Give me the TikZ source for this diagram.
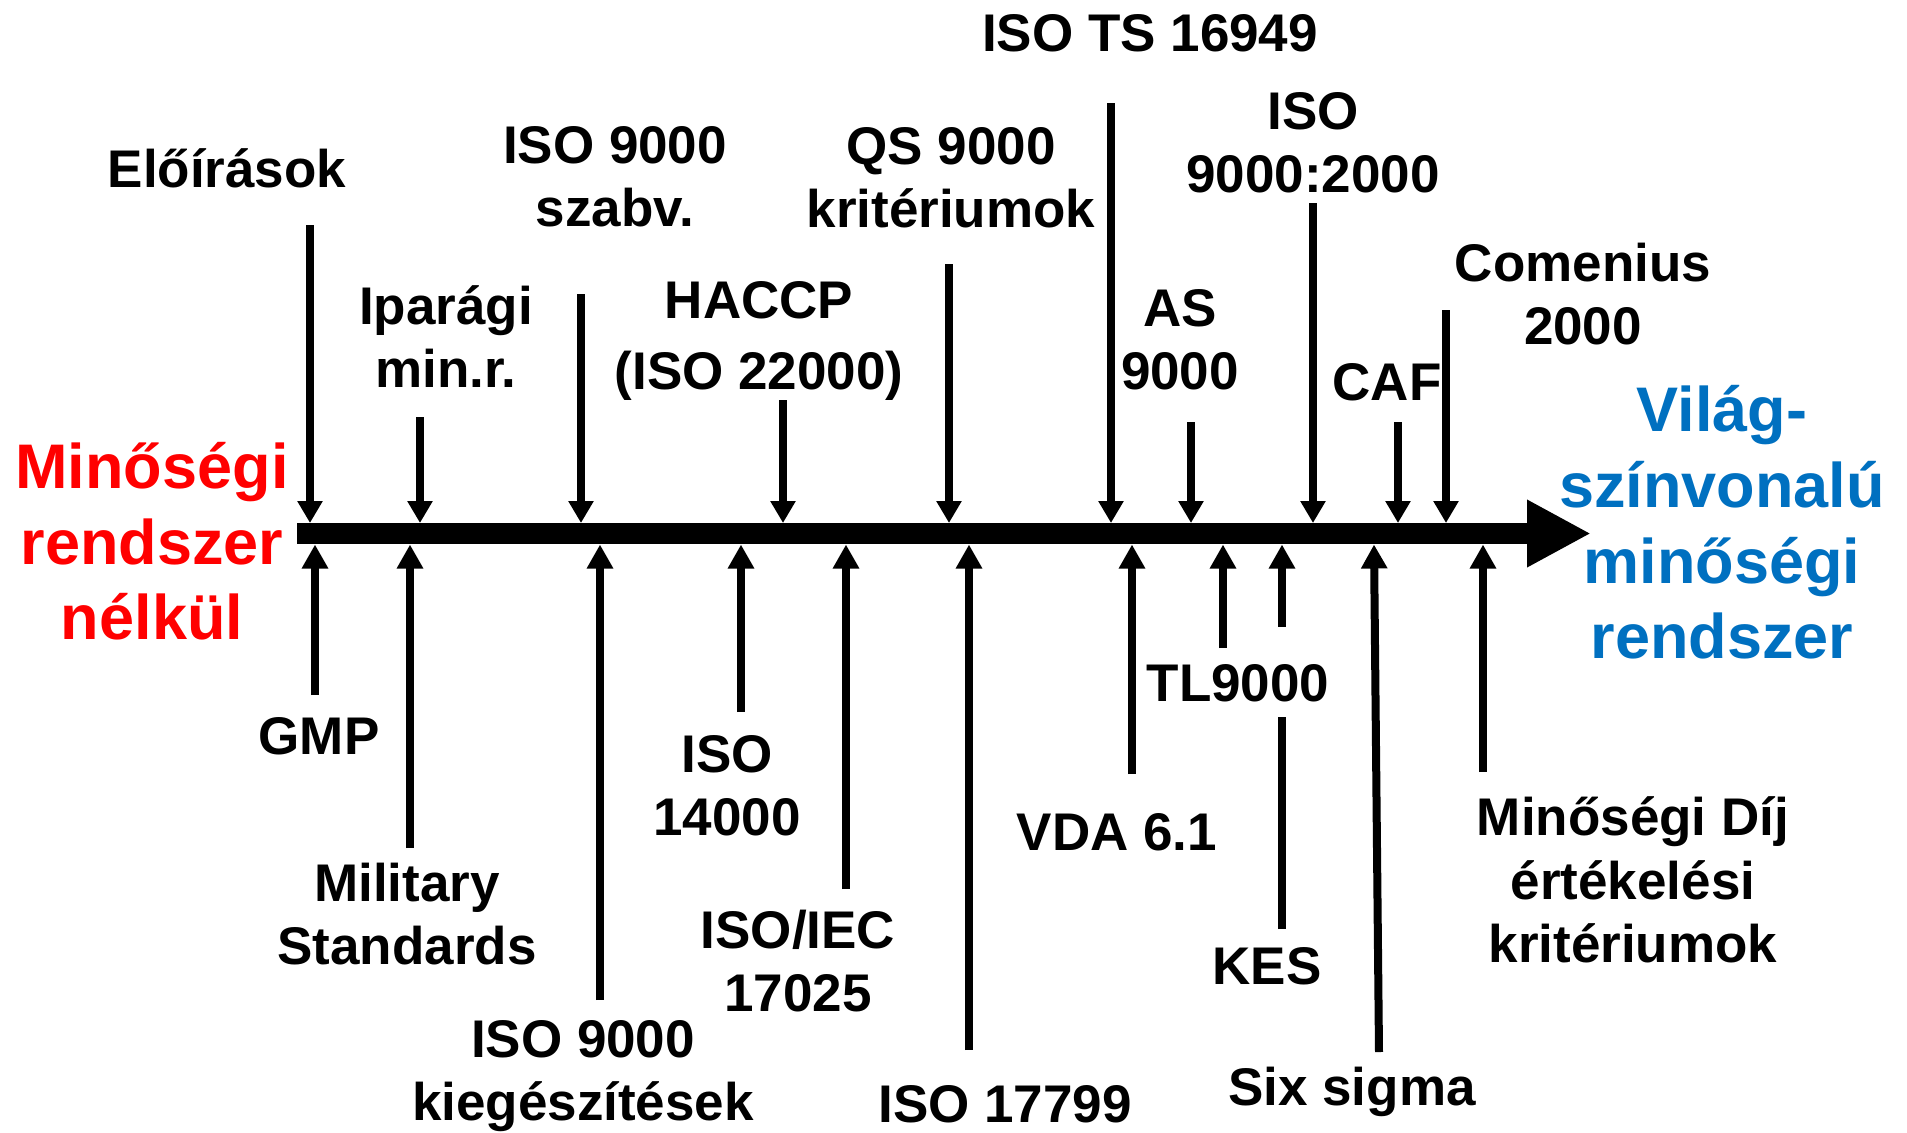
\documentclass[tikz,border=0pt]{standalone}
\usepackage{fontspec}
\setmainfont{Liberation Sans}
\usetikzlibrary{arrows.meta}
\definecolor{worldblue}{RGB}{0,112,192}

\begin{document}
\begin{tikzpicture}[x=0.5pt,y=-0.5pt,
    lbl/.style={font=\fontsize{26.5}{31.8}\selectfont\bfseries, align=center, inner sep=0pt, text depth=0pt, anchor=south},
    big/.style={font=\fontsize{31.5}{37.8}\selectfont\bfseries, align=center, inner sep=0pt, text depth=0pt, anchor=south},
    dn/.style={line width=4pt, -{Triangle[width=12pt,length=11pt]}},
    up/.style={line width=4pt, -{Triangle[width=12.5pt,length=12pt]}}]
  \useasboundingbox (0,0) rectangle (1907,1132);

  % time axis
  \coordinate (start) at (297,533.5);
  \coordinate (end) at (1591,533.5);
  \coordinate (bartop) at (0,523);
  \coordinate (barbot) at (0,544.5);
  \draw[line width=10.5pt, -{Triangle[width=31.5pt,length=32pt]}] (start) -- (end);

  \node[big, text=red] (ohne) at (152,640) {Minőségi\\rendszer\\nélkül};
  \node[big, text=worldblue] (world) at (1722,659) {Világ-\\színvonalú\\minőségi\\rendszer};

  % above the axis
  \node[lbl] (eloir) at (227,188) {Előírások};
  \node[lbl] (ipar) at (446,388) {Iparági\\min.r.};
  \node[lbl] (szabv) at (615,227) {ISO 9000\\szabv.};
  \node[lbl] (haccp) at (759,390) {HACCP\\[4pt](ISO 22000)};
  \node[lbl] (qs) at (951,228) {QS 9000\\kritériumok};
  \node[lbl] (ts) at (1150,52) {ISO TS 16949};
  \node[lbl] (iso2000) at (1313,193) {ISO\\9000:2000};
  \node[lbl] (as) at (1180,390) {AS\\9000};
  \node[lbl] (caf) at (1387,401) {CAF};
  \node[lbl] (comen) at (1583,345) {Comenius\\2000};

  % below the axis
  \node[lbl] (gmp) at (319,755) {GMP};
  \node[lbl] (mil) at (407,965) {Military\\Standards};
  \node[lbl] (kieg) at (583,1121) {ISO 9000\\kiegészítések};
  \node[lbl] (env) at (727,836) {ISO\\14000};
  \node[lbl] (iec) at (798,1012) {ISO/IEC\\17025};
  \node[lbl] (sec) at (1005,1123) {ISO 17799};
  \node[lbl] (vda) at (1117,851) {VDA 6.1};
  \node[lbl] (kes) at (1267,985) {KES};
  \node[lbl] (six) at (1352,1106) {Six sigma};
  \node[lbl] (award) at (1633,963) {Minőségi Díj\\értékelési\\kritériumok};

  % KES runs behind TL9000
  \draw[up] (1282,929) coordinate (kesA) -- (kesA |- barbot);
  \node[lbl, anchor=base, fill=white, text height=37.5pt, text depth=7.5pt] (tl) at (1238,701.6) {TL9000};

  \draw[dn] (310,225) coordinate (eloirA) -- (eloirA |- bartop);
  \draw[dn] (420,417) coordinate (iparA) -- (iparA |- bartop);
  \draw[dn] (581,294) coordinate (szabvA) -- (szabvA |- bartop);
  \draw[dn] (783,400) coordinate (haccpA) -- (haccpA |- bartop);
  \draw[dn] (949,264) coordinate (qsA) -- (qsA |- bartop);
  \draw[dn] (1111,103) coordinate (tsA) -- (tsA |- bartop);
  \draw[dn] (1191,422) coordinate (asA) -- (asA |- bartop);
  \draw[dn] (1313,203) coordinate (isoA) -- (isoA |- bartop);
  \draw[dn] (1398,422) coordinate (cafA) -- (cafA |- bartop);
  \draw[dn] (1446,310) coordinate (comenA) -- (comenA |- bartop);

  \draw[up] (315,695) coordinate (gmpA) -- (gmpA |- barbot);
  \draw[up] (410,848) coordinate (milA) -- (milA |- barbot);
  \draw[up] (600,1000) coordinate (kiegA) -- (kiegA |- barbot);
  \draw[up] (741,712) coordinate (envA) -- (envA |- barbot);
  \draw[up] (846,889) coordinate (iecA) -- (iecA |- barbot);
  \draw[up] (969,1050) coordinate (secA) -- (secA |- barbot);
  \draw[up] (1132,774) coordinate (vdaA) -- (vdaA |- barbot);
  \draw[up] (1223,648) coordinate (tlA) -- (tlA |- barbot);
  \draw[up] (1379,1052) coordinate (sixA) -- (1374,544.5);
  \draw[up] (1483,772) coordinate (awardA) -- (awardA |- barbot);
\end{tikzpicture}
\end{document}
